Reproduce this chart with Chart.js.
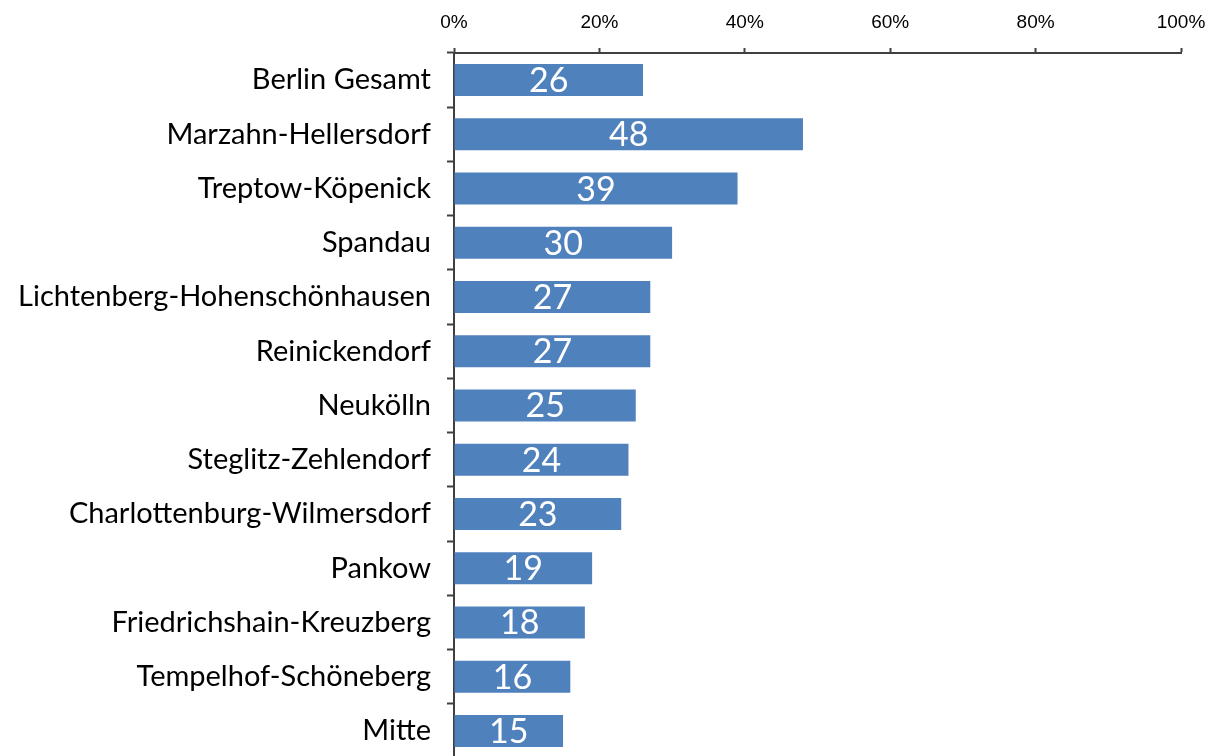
<!DOCTYPE html>
<html>
<head>
<meta charset="utf-8">
<script src="https://cdn.jsdelivr.net/npm/chart.js@4"></script>
<style>
    html, body { margin: 0; padding: 0; background: #fff; overflow: hidden; }
    canvas { display: block; }
</style>
</head>
<body>
<canvas id="barChart" width="1212" height="758"></canvas>
<script>
// Data
const districts = [
    'Berlin Gesamt',
    'Marzahn-Hellersdorf',
    'Treptow-Köpenick',
    'Spandau',
    'Lichtenberg-Hohenschönhausen',
    'Reinickendorf',
    'Neukölln',
    'Steglitz-Zehlendorf',
    'Charlottenburg-Wilmersdorf',
    'Pankow',
    'Friedrichshain-Kreuzberg',
    'Tempelhof-Schöneberg',
    'Mitte'
];
const shares = [26, 48, 39, 30, 27, 27, 25, 24, 23, 19, 18, 16, 15];
const xTicks = [0, 20, 40, 60, 80, 100];

const BAR_COLOR = '#4F81BD';
const AXIS_COLOR = '#404040';

// Value labels in the middle of each bar
const barLabels = {
    id: 'barLabels',
    afterDatasetsDraw(chart) {
        const ctx = chart.ctx;
        const meta = chart.getDatasetMeta(0);
        ctx.save();
        ctx.fillStyle = '#ffffff';
        ctx.font = '34px Lato';
        ctx.textAlign = 'center';
        ctx.textBaseline = 'middle';
        meta.data.forEach((bar, i) => {
            ctx.fillText(String(shares[i]), (bar.x + bar.base) / 2, bar.y + 1);
        });
        ctx.restore();
    }
};

const ctx = document.getElementById('barChart').getContext('2d');
const chart = new Chart(ctx, {
    type: 'bar',
    data: {
        labels: districts,
        datasets: [{
            data: shares,
            backgroundColor: BAR_COLOR,
            borderWidth: 0,
            categoryPercentage: 1,
            barPercentage: 0.59
        }]
    },
    options: {
        responsive: false,
        indexAxis: 'y',
        animation: false,
        layout: { padding: { left: 0, right: 31, top: 0, bottom: 0 } },
        plugins: {
            legend: { display: false },
            tooltip: { enabled: false }
        },
        scales: {
            x: {
                position: 'top',
                min: 0,
                max: 100,
                afterBuildTicks: axis => {
                    axis.ticks = xTicks.map(v => ({ value: v }));
                },
                afterFit: axis => {
                    axis.height = 53;
                    axis.paddingLeft = 0;
                    axis.paddingRight = 0;
                },
                ticks: {
                    callback: v => v + '%',
                    color: '#000',
                    font: { family: 'Liberation Sans', size: 19 },
                    padding: 14,
                    maxRotation: 0
                },
                grid: {
                    drawOnChartArea: false,
                    drawTicks: true,
                    tickLength: 5,
                    tickColor: AXIS_COLOR,
                    tickWidth: 2
                },
                border: { color: AXIS_COLOR, width: 2 }
            },
            y: {
                afterFit: axis => {
                    axis.width = 454;
                    axis.paddingTop = 0;
                    axis.paddingBottom = 0;
                },
                ticks: {
                    color: '#000',
                    font: { family: 'Lato', size: 29 },
                    padding: 16,
                    autoSkip: false
                },
                grid: {
                    offset: true,
                    drawOnChartArea: false,
                    drawTicks: true,
                    tickLength: 7,
                    tickColor: AXIS_COLOR,
                    tickWidth: 2
                },
                border: { color: AXIS_COLOR, width: 2 }
            }
        }
    },
    plugins: [barLabels]
});
</script>
</body>
</html>
